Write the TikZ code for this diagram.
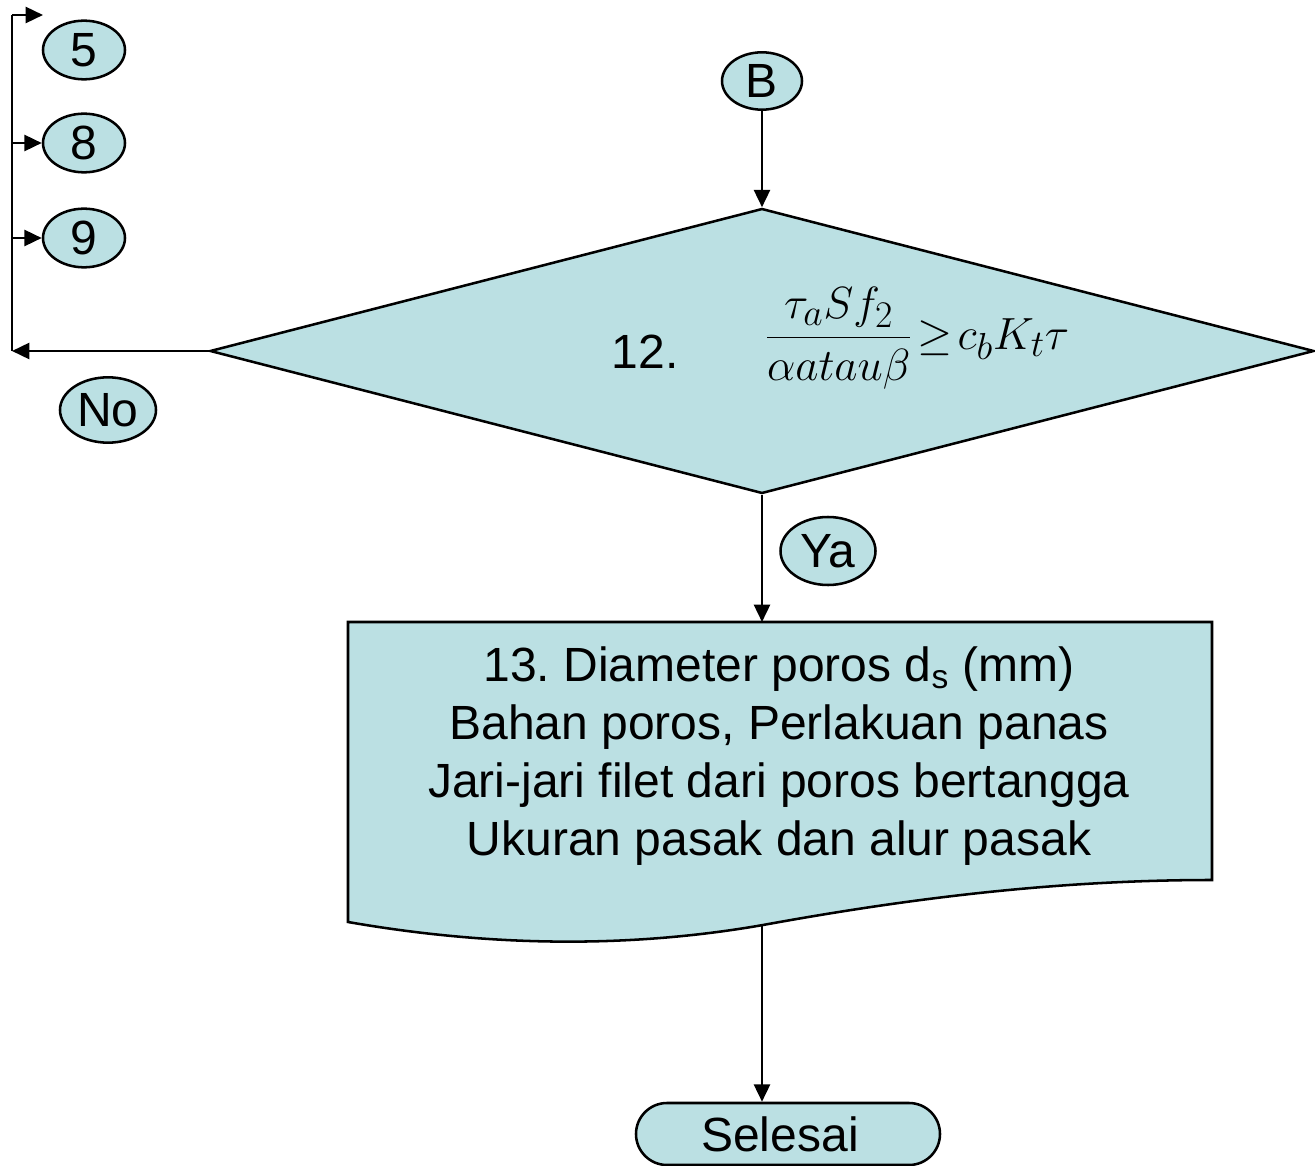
\documentclass[tikz,border=0pt]{standalone}
\usepackage{fontspec}
\setmainfont{Liberation Sans}
\usepackage{graphicx}
\usepackage{xcolor}
\usepackage{tikz}
\usetikzlibrary{arrows.meta,shapes.geometric,shapes.misc}

\definecolor{flowfill}{RGB}{187,224,227}
\tikzset{
  bigtxt/.style={font=\fontsize{36}{43.5}\selectfont},
  flowline/.style={line width=1.9pt},
  flowarrow/.style={flowline,-{Triangle[length=13pt,width=12pt]}},
  connector/.style={ellipse,draw,flowline,fill=flowfill,inner sep=0pt,bigtxt},
  decision/.style={diamond,draw,flowline,fill=flowfill,inner sep=0pt},
  terminal/.style={rounded rectangle,draw,flowline,fill=flowfill,inner sep=0pt,bigtxt},
}
\frenchspacing

\begin{document}
\begin{tikzpicture}[x=0.75pt,y=0.75pt,yscale=-1,xscale=1]
	\useasboundingbox (0,0) rectangle (1315,1166);
	
	%Shape: Ellipse (connectors left)
	\node[connector,minimum width=61.5pt,minimum height=44pt] (n5) at (84,50) {5};
	\node[connector,minimum width=61.5pt,minimum height=44pt] (n8) at (84,143) {8};
	\node[connector,minimum width=61.5pt,minimum height=44pt] (n9) at (84,238) {9};
	%Shape: Ellipse 
	\node[connector,minimum width=72pt,minimum height=49pt] (no) at (108,410) {No};
	%Shape: Ellipse 
	\node[connector,minimum width=60pt,minimum height=43pt] (b) at (762,81) {B};
	
	%Shape: Diamond 
	\node[decision,minimum width=828pt,minimum height=213.75pt] (dec) at (762,351) {};
	% Text Node
	\node[bigtxt] (num12) at (645,352) {12.};
	% Text Node
	\node (frm) at (917,338)
	  {\scalebox{1.36}{\Huge$\displaystyle\frac{\tau_a S f_2}{\alpha atau\beta}\!\geq\! c_b K_t\tau$}};
	
	%Shape: Ellipse 
	\node[connector,minimum width=71.25pt,minimum height=51pt] (ya) at (828,551) {Ya};
	
	%Shape: Document 
	\draw[flowline,fill=flowfill] (348,622) -- (1212,622) -- (1212,880)
	  .. controls (1050,880) and (900,900) .. (763,925)
	  .. controls (620,950) and (480,945) .. (348,922) -- cycle;
	\coordinate (doctop) at (762,622);
	\coordinate (docbot) at (762,925);
	% Text Node
	\node[bigtxt,align=center] (doctxt) at (779,756)
	  {13. Diameter poros d\textsubscript{s} (mm)\\
	   Bahan poros, Perlakuan panas\\
	   Jari-jari filet dari poros bertangga\\
	   Ukuran pasak dan alur pasak};
	
	%Shape: Rounded Rectangle 
	\node[terminal,minimum width=228pt,minimum height=46.5pt] (stop) at (788,1134) {\hspace{-12pt}Selesai};
	
	%Straight Lines 
	\coordinate (loopbot) at (12,351);
	\coordinate (looptop) at (12,15);
	\coordinate (toptip) at (43,15);
	\draw[flowarrow] (b) -- (dec.north);
	\draw[flowarrow] (dec.west) -- (loopbot);
	\draw[flowline] (loopbot) -- (looptop);
	\draw[flowarrow] (looptop) -- (toptip);
	\draw[flowarrow] (n8.west -| looptop) -- (n8.west);
	\draw[flowarrow] (n9.west -| looptop) -- (n9.west);
	\draw[flowarrow] (dec.south) -- (doctop);
	\draw[flowarrow] (docbot) -- (docbot |- stop.north);
	
\end{tikzpicture}
\end{document}
